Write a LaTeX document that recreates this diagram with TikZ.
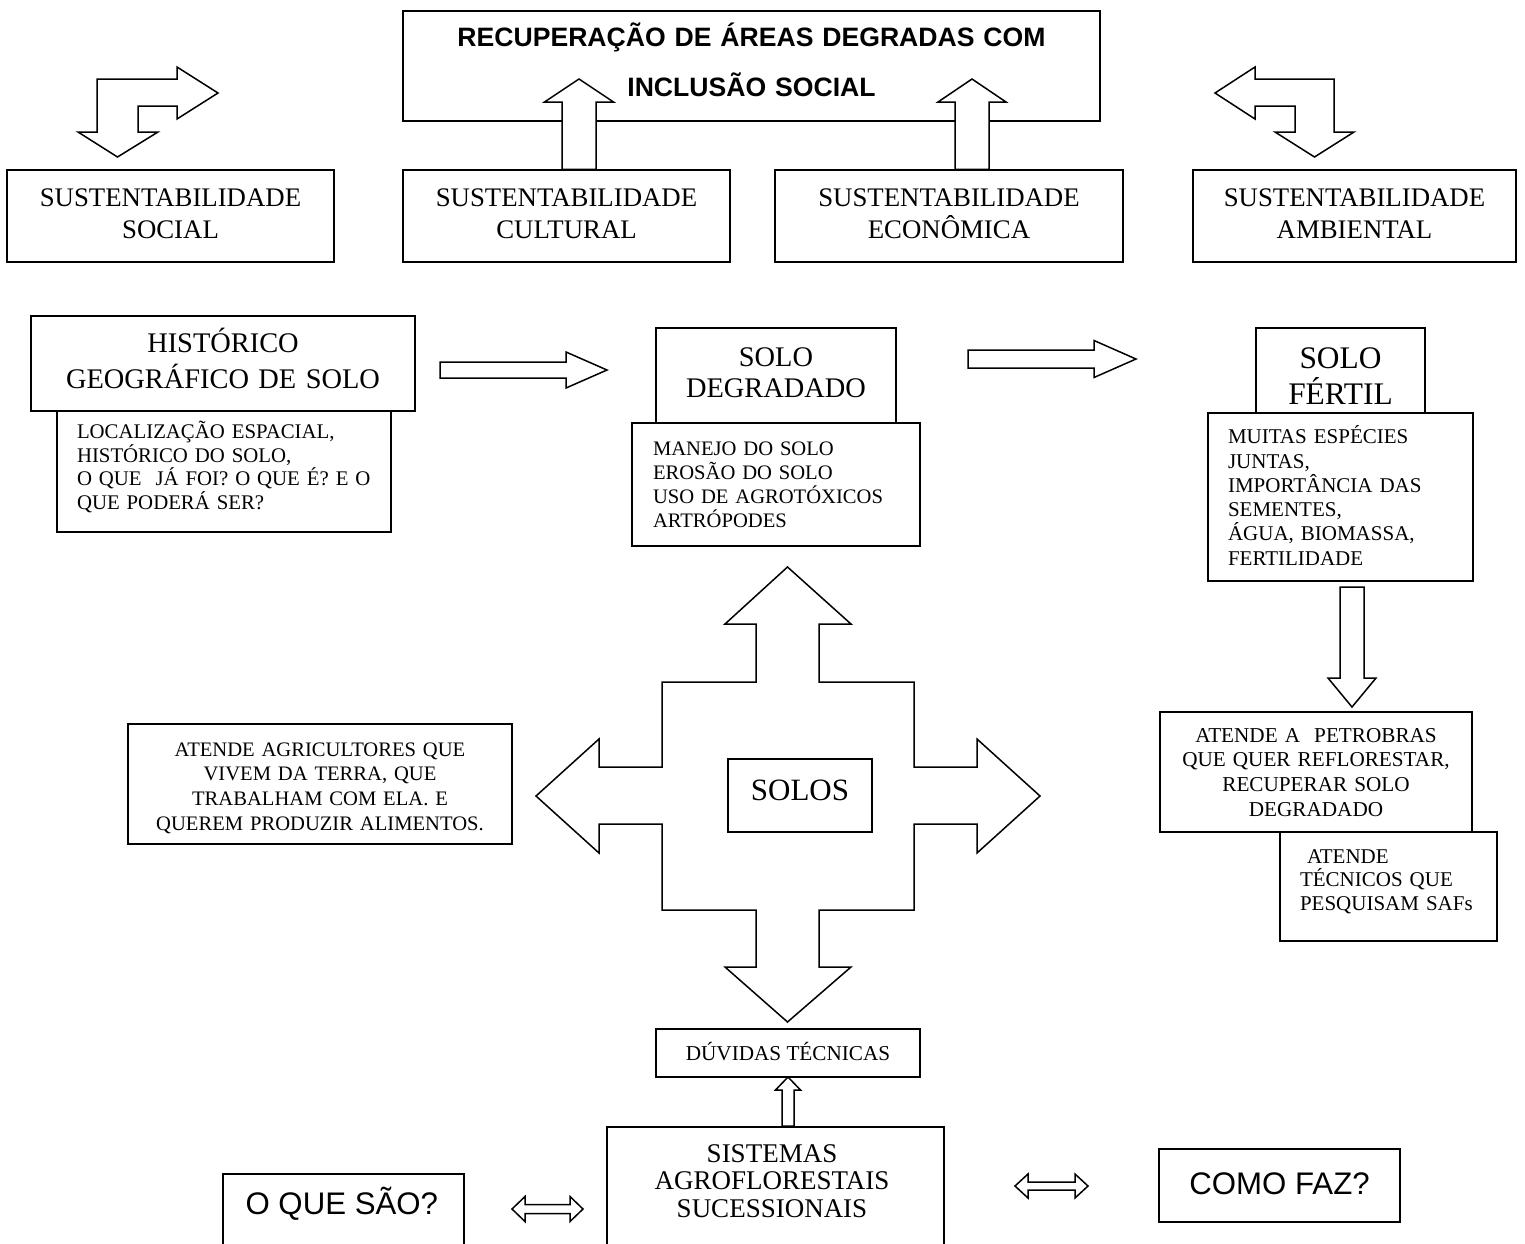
\documentclass[tikz,border=0pt]{standalone}
\usepackage{fontspec}
\setmainfont{Liberation Serif}
\newfontfamily\arialfont{Liberation Sans}
\usetikzlibrary{calc}

\tikzset{
  box/.style={draw, fill=white, line width=0.75pt, inner sep=0pt},
  sized/.style 2 args={minimum width=#1*0.5pt, minimum height=#2*0.5pt},
  tb/.style 2 args={text height=#1, text depth=#2},
  sust/.style={box, align=center, tb={8.9pt}{18pt}, font=\fontsize{13.4}{16}\selectfont},
  block/.style={draw, fill=white, line width=0.75pt, line join=miter},
}

\newcommand{\blockarr}[5]{%
  \coordinate (ba-base) at ($(#2)!#5!(#1)$);
  \filldraw[block] ($(#1)!#3!90:(#2)$) -- ($(ba-base)!#3!-90:(#1)$)
    -- ($(ba-base)!#4!-90:(#1)$) -- (#2) -- ($(ba-base)!#4!90:(#1)$)
    -- ($(ba-base)!#3!90:(#1)$) -- ($(#1)!#3!-90:(#2)$) -- cycle;
}
\newcommand{\dblockarr}[5]{%
  \coordinate (da-a) at ($(#1)!#5!(#2)$);
  \coordinate (da-b) at ($(#2)!#5!(#1)$);
  \filldraw[block] (#1) -- ($(da-a)!#4!90:(#2)$) -- ($(da-a)!#3!90:(#2)$)
    -- ($(da-b)!#3!-90:(#1)$) -- ($(da-b)!#4!-90:(#1)$) -- (#2)
    -- ($(da-b)!#4!90:(#1)$) -- ($(da-b)!#3!90:(#1)$)
    -- ($(da-a)!#3!-90:(#2)$) -- ($(da-a)!#4!-90:(#2)$) -- cycle;
}

\begin{document}
\begin{tikzpicture}[x=0.5pt, y=-0.5pt]
        \useasboundingbox (0,0) rectangle (1525,1243);
        \clip (0,0) rectangle (1525,1243);

        \node[box, sized={697}{110}, text width=348.5pt, align=center, tb={9.5pt}{29pt},
              font=\arialfont\bfseries\fontsize{13.3}{25}\selectfont] (title) at (751.5,66)
              {RECUPERAÇÃO DE ÁREAS DEGRADAS COM\\INCLUSÃO SOCIAL};

        \node[sust, sized={327}{92}, text width=163.5pt] (soc) at (170.5,216) {SUSTENTABILIDADE\\SOCIAL};
        \node[sust, sized={327}{92}, text width=163.5pt] (cult) at (566.5,216) {SUSTENTABILIDADE\\CULTURAL};
        \node[sust, sized={348}{92}, text width=174pt] (econ) at (949,216) {SUSTENTABILIDADE\\ECONÔMICA};
        \node[sust, sized={323}{92}, text width=161.5pt] (amb) at (1354.5,216) {SUSTENTABILIDADE\\AMBIENTAL};

        \coordinate (cultTip) at (579,79);
        \coordinate (econTip) at (972,79);
        \blockarr{cult.north -| cultTip}{cultTip}{8.5pt}{17.25pt}{11.5pt}
        \blockarr{econ.north -| econTip}{econTip}{8.5pt}{17pt}{11.5pt}

        \filldraw[block] (117.5,157) -- (158,132) -- (138,132) -- (138,106) -- (177,106) -- (177,119)
            -- (218,93) -- (177,67) -- (177,79) -- (97,79) -- (97,132) -- (78,132) -- cycle;
        \filldraw[block] (1314.5,157) -- (1354,132) -- (1334,132) -- (1334,79) -- (1255,79) -- (1255,67)
            -- (1215,93) -- (1255,119) -- (1255,106) -- (1295,106) -- (1295,132) -- (1275,132) -- cycle;

        \node[box, sized={384}{95}, text width=192pt, align=center, tb={9.4pt}{20.2pt},
              font=\fontsize{14.2}{18}\selectfont] (hist) at (223,363.5) {HISTÓRICO\\GEOGRÁFICO DE SOLO};
        \node[box, sized={334}{121}, text width=147pt, inner xsep=10pt, align=left, tb={6.9pt}{39.8pt},
              font=\fontsize{10.4}{10.25}\selectfont] (histinfo) at (224,471.5)
              {LOCALIZAÇÃO ESPACIAL,\\HISTÓRICO DO SOLO,\\O QUE~ JÁ FOI? O QUE É? E O\\QUE PODERÁ SER?};

        \node[box, sized={240}{95}, text width=120pt, align=center, tb={9.4pt}{18.8pt},
              font=\fontsize{14.2}{15.8}\selectfont] (deg) at (776,375.5) {SOLO\\DEGRADADO};
        \node[box, sized={288}{123}, text width=123pt, inner xsep=10.5pt, align=left, tb={6.8pt}{36.2pt},
              font=\fontsize{10.3}{12}\selectfont] (deginfo) at (776,484.5)
              {MANEJO DO SOLO\\EROSÃO DO SOLO\\USO DE AGROTÓXICOS\\ARTRÓPODES};

        \node[box, sized={169}{85}, text width=84.5pt, align=center, tb={10.4pt}{12.2pt},
              font=\fontsize{15.7}{18}\selectfont] (fert) at (1340.5,370.5) {SOLO\\FÉRTIL};
        \node[box, sized={265}{168}, text width=112.5pt, inner xsep=10pt, align=left, tb={7pt}{60.3pt},
              font=\fontsize{10.5}{12.15}\selectfont] (fertinfo) at (1340.5,497)
              {MUITAS ESPÉCIES\\JUNTAS,\\IMPORTÂNCIA DAS\\SEMENTES,\\ÁGUA, BIOMASSA,\\FERTILIDADE};

        \coordinate (histOut) at (440,370);
        \coordinate (degIn) at (607,370);
        \blockarr{histOut}{degIn}{4pt}{9pt}{20.5pt}
        \coordinate (degOut) at (968,359);
        \coordinate (fertIn) at (1136,359);
        \blockarr{degOut}{fertIn}{4.5pt}{9.25pt}{21pt}
        \coordinate (fertOut) at (1352,587);
        \coordinate (petroIn) at (1352,707);
        \blockarr{fertOut}{petroIn}{6pt}{12pt}{14.5pt}

        \filldraw[block] (787.5,567) -- (851,624) -- (819,624) -- (819,682) -- (914,682) -- (914,767)
            -- (977,767) -- (977,739) -- (1040,796) -- (977,853) -- (977,824) -- (914,824) -- (914,910)
            -- (819,910) -- (819,967) -- (851,967) -- (787.5,1022) -- (725,967) -- (756,967) -- (756,910)
            -- (662,910) -- (662,824) -- (599,824) -- (599,853) -- (536,796) -- (599,739) -- (599,767)
            -- (662,767) -- (662,682) -- (756,682) -- (756,624) -- (725,624) -- cycle;

        \node[box, sized={144}{73}, tb={10.3pt}{5.5pt}, font=\fontsize{15.5}{18}\selectfont] (solos) at (800,795.5) {SOLOS};

        \node[box, sized={384}{120}, text width=192pt, align=center, tb={6.8pt}{34.7pt},
              font=\fontsize{10.3}{12.35}\selectfont] (agri) at (320,784)
              {ATENDE AGRICULTORES QUE\\VIVEM DA TERRA, QUE\\TRABALHAM COM ELA. E\\QUEREM PRODUZIR ALIMENTOS.};

        \node[box, sized={312}{120}, text width=156pt, align=center, tb={7pt}{37pt},
              font=\fontsize{10.6}{12.35}\selectfont] (petro) at (1316,772)
              {ATENDE A~ PETROBRAS\\QUE QUER REFLORESTAR,\\RECUPERAR SOLO\\DEGRADADO};
        \node[box, sized={217}{109}, text width=88.5pt, inner xsep=10pt, align=left, tb={7pt}{30.5pt},
              font=\fontsize{10.5}{11.85}\selectfont] (tec) at (1388.5,886.5)
              {\hspace*{3.5pt}ATENDE\\TÉCNICOS QUE\\PESQUISAM SAFs};

        \node[box, sized={264}{48}, tb={7pt}{0pt}, font=\fontsize{10.6}{12}\selectfont] (duv) at (788,1053) {DÚVIDAS TÉCNICAS};

        \node[box, sized={337}{240}, anchor=north] (saf) at (775.5,1126) {};
        \node[text width=168.5pt, align=center, inner sep=0pt, tb={8.9pt}{27.7pt},
              font=\fontsize{13.5}{13.75}\selectfont] (saftext) at (772,1181)
              {SISTEMAS\\AGROFLORESTAIS\\SUCESSIONAIS};
        \coordinate (duvTip) at (788,1077);
        \blockarr{saf.north -| duvTip}{duvTip}{3pt}{6.25pt}{6.5pt}

        \node[box, sized={241}{150}, anchor=north] (oque) at (343.5,1173) {};
        \node[inner sep=0pt, tb={11.2pt}{0pt}, font=\arialfont\fontsize{15.6}{18}\selectfont] (oquetext) at (341.8,1203.3) {O QUE SÃO?};
        \node[box, sized={241}{73}, tb={11.2pt}{2.2pt}, font=\arialfont\fontsize{15.6}{18}\selectfont] (como) at (1279.5,1185.5) {COMO FAZ?};

        \coordinate (oqueEnd) at (512,1209);
        \coordinate (safLeft) at (583,1209);
        \dblockarr{oqueEnd}{safLeft}{2.25pt}{6.25pt}{6.5pt}
        \coordinate (safRight) at (1015,1186);
        \coordinate (comoEnd) at (1088,1186);
        \dblockarr{safRight}{comoEnd}{2pt}{6pt}{6.5pt}
\end{tikzpicture}
\end{document}
